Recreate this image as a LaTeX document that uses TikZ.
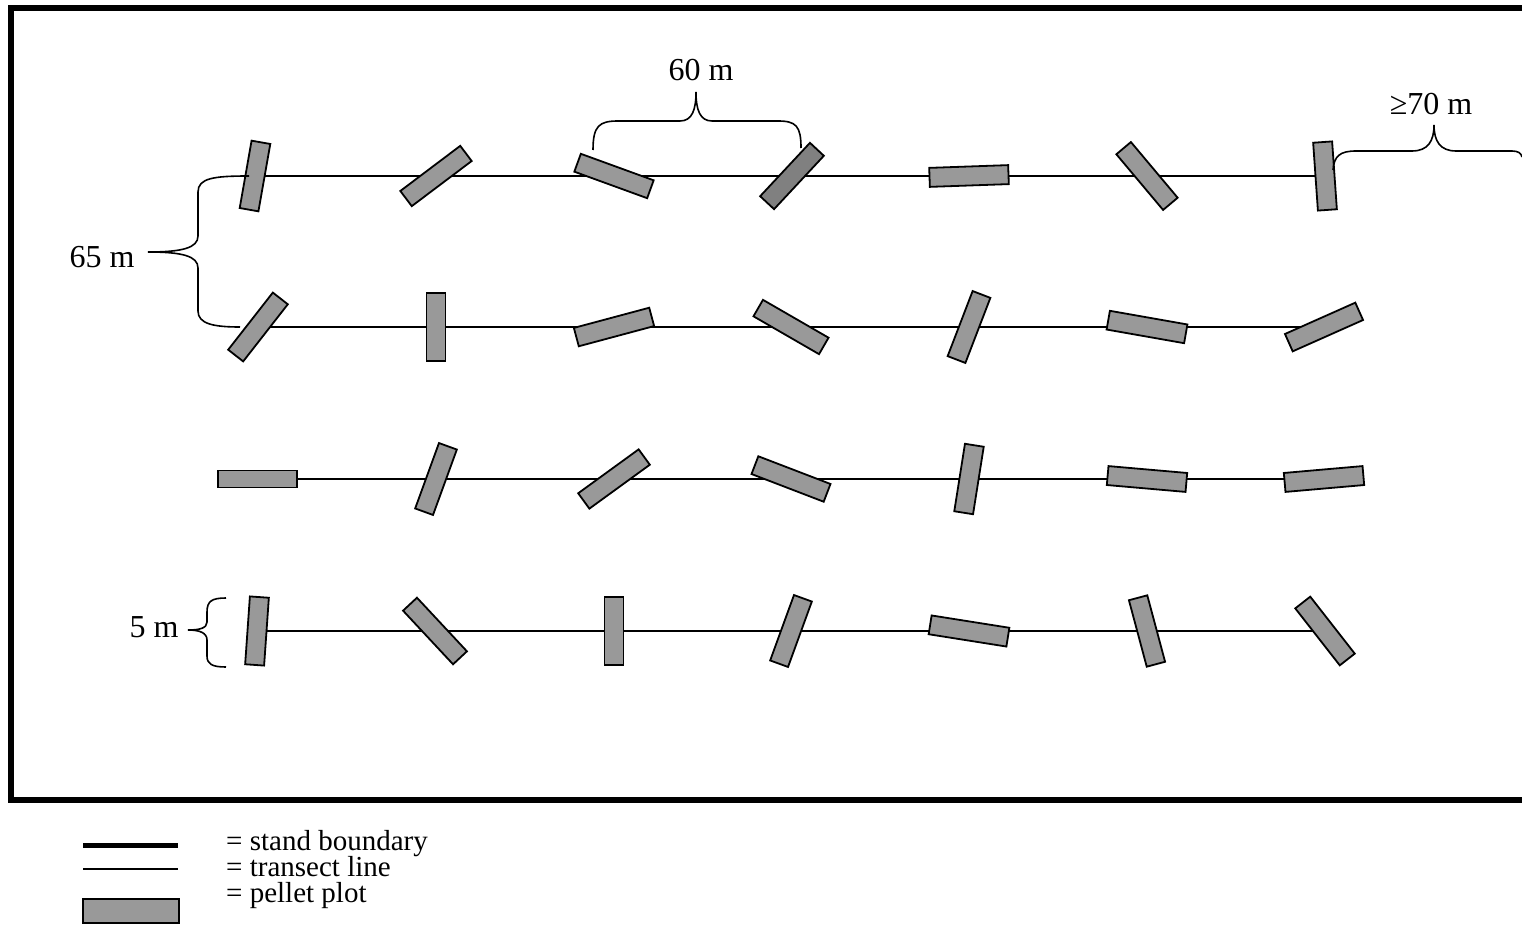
\documentclass[tikz,border=0pt]{standalone}
\usepackage{fontspec}
\setmainfont{Liberation Serif}
\usetikzlibrary{backgrounds}
\definecolor{plotgray}{RGB}{153,153,153}
\definecolor{plotdark}{RGB}{128,128,128}
\begin{document}
\begin{tikzpicture}[x=1pt,y=-1pt,
  plotbox/.style={shape=rectangle,draw=black,line width=1.8pt,fill=plotgray,
    minimum height=19pt,inner sep=0pt,outer sep=0pt},
  darkbox/.style={plotbox,fill=plotdark},
  transect/.style={line width=1.5pt},
  boundary/.style={line width=6pt,line join=miter},
  bracepath/.style={line width=1.6pt},
  lbl/.style={font=\fontsize{32}{38}\selectfont,inner sep=0pt,anchor=base},
  legtxt/.style={font=\fontsize{29}{34}\selectfont,inner sep=0pt,anchor=base west,
    text height=0.68em,text depth=0.14em}]
\useasboundingbox (0,0) rectangle (1522,925);

% stand boundary
\draw[boundary] (1522,8) -- (11,8) -- (11,800) -- (1522,800);

% row 1
\node[plotbox,minimum width=68.4pt,rotate=80]  (p11) at (255,176) {};
\node[plotbox,minimum width=75pt,rotate=37]    (p12) at (436,176) {};
\node[plotbox,minimum width=77.5pt,rotate=-20] (p13) at (614,176) {};
\node[darkbox,minimum width=73pt,rotate=47]    (p14) at (792,176) {};
\node[plotbox,minimum width=79pt,rotate=2]     (p15) at (969,176) {};
\node[plotbox,minimum width=72.7pt,rotate=-50] (p16) at (1147,176) {};
\node[plotbox,minimum width=68pt,rotate=94]    (p17) at (1325,176) {};
% row 2
\node[plotbox,minimum width=72.5pt,rotate=52]  (p21) at (258,327) {};
\node[plotbox,minimum width=68pt,rotate=90]    (p22) at (436,327) {};
\node[plotbox,minimum width=78pt,rotate=15]    (p23) at (614,327) {};
\node[plotbox,minimum width=75.7pt,rotate=-30] (p24) at (791,327) {};
\node[plotbox,minimum width=69.7pt,rotate=69]  (p25) at (969,327) {};
\node[plotbox,minimum width=78.7pt,rotate=-10] (p26) at (1147,327) {};
\node[plotbox,minimum width=77pt,rotate=24]    (p27) at (1324,327) {};
% row 3
\node[plotbox,minimum width=79pt,minimum height=17pt] (p31) at (257.5,479) {};
\node[plotbox,minimum width=69.6pt,rotate=70]  (p32) at (436,479) {};
\node[plotbox,minimum width=74.7pt,rotate=36]  (p33) at (614,479) {};
\node[plotbox,minimum width=77.3pt,rotate=-21] (p34) at (791,479) {};
\node[plotbox,minimum width=68.3pt,rotate=81]  (p35) at (969,479) {};
\node[plotbox,minimum width=79pt,rotate=-5]    (p36) at (1147,479) {};
\node[plotbox,minimum width=79pt,rotate=5]     (p37) at (1324,479) {};
% row 4
\node[plotbox,minimum width=68pt,rotate=86]    (p41) at (257,631) {};
\node[plotbox,minimum width=73.3pt,rotate=-47] (p42) at (435,631) {};
\node[plotbox,minimum width=68pt,rotate=90]    (p43) at (614,631) {};
\node[plotbox,minimum width=69.6pt,rotate=70]  (p44) at (791,631) {};
\node[plotbox,minimum width=78.7pt,rotate=-9]  (p45) at (969,631) {};
\node[plotbox,minimum width=68.8pt,rotate=105] (p46) at (1147,631) {};
\node[plotbox,minimum width=72.3pt,rotate=-52] (p47) at (1325,631) {};

% transect lines
\begin{pgfonlayer}{background}
\draw[transect] (p11.center) -- (p17.center);
\draw[transect] (p21.center) -- (p27.center);
\draw[transect] (p31.center) -- (p37.center);
\draw[transect] (p41.center) -- (p47.center);
\end{pgfonlayer}

% 65 m brace
\coordinate (b65a) at (249,176);
\coordinate (b65b) at (240,327);
\draw[bracepath] (b65a) .. controls (214,176) and (198,178) .. (198,192)
  -- (198,236) .. controls (198,248) and (182,252) .. (148,252)
  .. controls (182,252) and (198,256) .. (198,268)
  -- (198,311) .. controls (198,324) and (214,327) .. (b65b);
\node[lbl] (t65) at (102,267) {65 m};

% 60 m brace
\draw[bracepath] (593,150) .. controls (593,126) and (599,121) .. (618,121)
  -- (680,121) .. controls (692,121) and (696,110) .. (696,92)
  .. controls (696,110) and (700,121) .. (712,121)
  -- (778,121) .. controls (796,121) and (801,126) .. (801,148);
\node[lbl] (t60) at (701,81) {60 m};

% >=70 m brace
\draw[bracepath] (1333,170) .. controls (1334,156) and (1340,151) .. (1356,151)
  -- (1412,151) .. controls (1428,151) and (1434,141) .. (1434,125)
  .. controls (1434,141) and (1440,151) .. (1456,151)
  -- (1512,151) .. controls (1518,151) and (1521,153) .. (1522,157);
\node[lbl] (t70) at (1431,115) {≥70 m};

% 5 m brace
\draw[bracepath] (226,598) .. controls (212,598) and (207,601) .. (207,612)
  -- (207,622) .. controls (207,628) and (200,630) .. (188,630)
  .. controls (200,630) and (207,633) .. (207,640)
  -- (207,656) .. controls (207,664) and (212,667) .. (226,667);
\node[lbl] (t5) at (154,637) {5 m};

% legend
\coordinate (l1a) at (83,845.5); \coordinate (l1b) at (178,845.5);
\coordinate (l2a) at (83,869);   \coordinate (l2b) at (178,869);
\draw[line width=5.5pt] (l1a) -- (l1b);
\draw[transect] (l2a) -- (l2b);
\draw[line width=1.8pt,fill=plotgray] (83,899) rectangle (179,923);
\node[legtxt] (g1) at (226,850) {= stand boundary};
\node[legtxt] (g2) at (226,876.5) {= transect line};
\node[legtxt] (g3) at (226,902) {= pellet plot};
\end{tikzpicture}
\end{document}
